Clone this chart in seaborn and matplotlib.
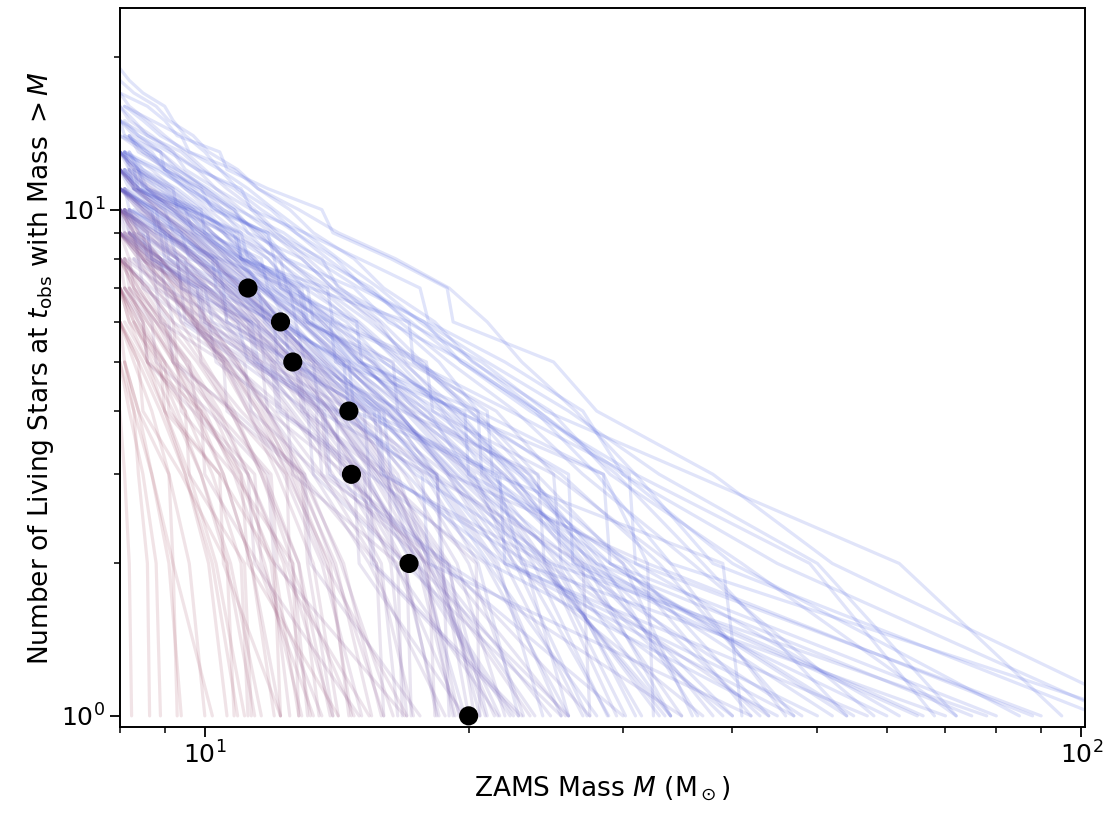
import numpy as np
import pandas as pd
import matplotlib
matplotlib.use("Agg")
import matplotlib.pyplot as plt
import seaborn as sns
from matplotlib.colors import LinearSegmentedColormap

# ── Data ──────────────────────────────────────────────────────────────────────
# observed cluster: ZAMS masses of the living stars (sorted)
obs_mass = [11.2, 12.2, 12.6, 14.6, 14.7, 17.1, 20.0]

# synthetic clusters: sorted ZAMS masses of the living stars per realisation
# young realisations (blue)
blue_sets = [
    [8.0, 8.3, 8.8, 9.1, 9.7, 10.1, 10.9, 11.5, 12.5, 13.3, 14.8, 16.0, 18.3, 20.2, 24.8, 29.0, 41.0, 72.0],
    [8.1, 8.5, 8.9, 9.6, 10.4, 10.9, 11.9, 12.7, 14.1, 15.2, 17.8, 19.6, 23.5, 31.0, 38.0, 105.0],
    [8.0, 8.6, 9.2, 9.5, 10.3, 11.3, 12.0, 13.6, 14.2, 16.7, 19.0, 22.6, 27.0, 36.0, 58.0],
    [8.2, 8.4, 9.1, 9.9, 10.5, 11.6, 12.3, 13.9, 15.8, 17.0, 21.5, 25.0, 34.0, 46.0],
    [8.0, 8.7, 9.0, 9.8, 10.8, 11.2, 12.9, 14.0, 16.4, 18.5, 20.5, 28.5, 32.0, 88.0],
    [8.1, 8.5, 9.3, 10.0, 10.6, 11.8, 12.6, 14.5, 16.0, 19.2, 23.0, 30.5, 44.0],
    [8.0, 8.4, 8.8, 9.7, 10.2, 11.1, 12.4, 13.1, 15.5, 17.9, 22.0, 26.5, 35.0],
    [8.2, 8.9, 9.4, 10.1, 11.3, 12.0, 13.7, 15.0, 18.6, 21.0, 29.0, 55.0],
    [8.0, 8.6, 9.1, 10.0, 10.7, 11.9, 13.2, 15.6, 17.4, 23.5, 27.5, 38.0],
    [8.1, 8.4, 9.2, 9.8, 11.0, 11.6, 13.5, 14.7, 18.0, 20.0, 31.0, 62.0],
    [8.0, 8.7, 9.5, 10.3, 11.4, 12.2, 14.3, 16.5, 19.4, 26.0, 48.0],
    [8.3, 8.8, 9.6, 10.4, 11.5, 13.0, 14.4, 17.2, 20.8, 24.5, 29.5],
    [8.0, 8.3, 9.0, 9.5, 10.5, 11.1, 12.2, 13.9, 15.1, 17.0, 21.2, 27.0, 66.0],
    [8.1, 8.4, 8.9, 9.3, 10.0, 10.8, 11.4, 12.4, 13.6, 15.4, 17.5, 20.0, 25.5, 33.0, 47.0],
    [8.2, 9.0, 9.9, 10.9, 12.1, 13.4, 16.2, 19.0, 24.0, 34.0],
    [8.0, 8.5, 9.3, 9.9, 10.6, 11.5, 12.8, 14.6, 16.9, 19.7, 25.8, 39.0],
    [8.1, 8.6, 9.0, 9.6, 10.4, 11.0, 12.1, 13.0, 14.9, 16.6, 18.8, 23.0, 28.0, 52.0],
    [8.0, 8.8, 9.4, 10.2, 11.2, 12.6, 13.8, 15.9, 20.3, 22.5, 37.0],
    [8.2, 8.5, 9.1, 9.8, 10.7, 11.4, 12.5, 14.2, 15.7, 18.2, 22.8, 29.0, 80.0],
    [8.0, 8.4, 9.0, 9.9, 10.9, 11.7, 13.1, 14.8, 17.6, 21.8, 27.8, 43.0],
    [8.0, 8.2, 8.7, 9.2, 9.8, 10.3, 11.0, 11.9, 12.9, 14.0, 15.6, 17.3, 20.4, 23.9, 30.0, 42.0],
    [8.1, 8.9, 9.7, 10.8, 11.8, 13.3, 15.3, 18.9, 22.0, 27.0],
    [8.0, 8.6, 9.4, 10.0, 11.1, 12.3, 13.7, 16.1, 18.4, 25.0, 31.5],
    [8.1, 8.7, 9.2, 9.9, 10.5, 11.3, 12.7, 13.8, 16.3, 18.7, 21.9, 30.0, 36.0],
    [8.0, 8.3, 9.1, 9.7, 10.6, 11.8, 12.4, 14.1, 16.0, 20.6, 24.2, 33.5],
    [8.2, 8.6, 9.2, 9.7, 10.3, 11.2, 12.0, 13.3, 14.7, 16.8, 19.5, 22.4, 26.8, 40.0],
    [8.0, 8.5, 9.3, 10.1, 11.0, 12.1, 13.4, 15.2, 17.8, 20.5, 22.8],
    [8.1, 8.7, 9.5, 10.2, 11.0, 12.2, 13.6, 15.1, 17.1, 19.9, 23.2, 26.0],
    [8.0, 8.8, 9.8, 10.6, 11.9, 13.5, 15.8, 18.1, 21.4, 25.5],
    [8.0, 8.4, 9.0, 9.6, 10.2, 11.0, 12.0, 13.2, 14.6, 16.5, 19.3, 24.7, 30.2],
    [8.2, 9.1, 10.1, 11.3, 12.8, 14.6, 17.0, 21.0, 28.0],
    [8.0, 8.3, 8.9, 9.4, 10.0, 10.7, 11.5, 12.3, 13.5, 15.0, 16.9, 19.1, 22.3, 27.2, 34.0],
    [8.1, 8.6, 9.2, 10.0, 10.8, 11.7, 12.9, 14.4, 16.2, 18.3, 21.6, 24.3],
    [8.0, 8.7, 9.3, 10.2, 11.1, 12.4, 13.9, 15.7, 18.0, 21.1, 45.0],
    [8.1, 8.4, 9.1, 9.7, 10.5, 11.4, 12.3, 13.6, 15.0, 17.2, 20.1, 23.7, 28.8],
    [8.0, 8.5, 9.0, 9.5, 10.1, 10.9, 11.8, 12.7, 14.0, 15.5, 17.6, 20.9, 25.3, 31.0],
    [8.3, 9.0, 9.9, 10.9, 12.0, 13.6, 15.5, 18.3, 22.3, 50.0],
    [8.0, 8.4, 9.2, 9.8, 10.8, 11.6, 12.9, 14.2, 16.6, 18.9, 22.6, 27.3],
    [8.0, 8.2, 8.6, 9.0, 9.5, 10.0, 10.6, 11.4, 12.1, 13.1, 14.3, 15.9, 17.7, 20.1, 23.4, 28.4, 36.5],
    [8.1, 8.8, 9.6, 10.5, 11.6, 12.8, 14.3, 16.4, 19.1, 23.0, 28.9],
    [8.0, 8.1, 8.9, 9.0, 9.9, 10.2, 11.8, 12.0, 12.2, 14.9, 15.1, 19.5, 26.0, 26.3, 60.0],
    [8.3, 8.4, 9.6, 10.9, 11.0, 13.8, 14.0, 17.5, 21.0, 21.3, 39.0, 41.0],
    [8.0, 8.8, 8.9, 10.4, 12.5, 12.7, 13.0, 16.8, 24.0, 24.4, 33.0],
    [8.1, 8.2, 8.6, 9.9, 10.0, 11.0, 13.1, 13.3, 15.0, 20.5, 20.7, 28.0, 75.0],
    [8.0, 8.5, 8.6, 9.8, 10.9, 11.2, 14.0, 18.4, 18.6, 30.0],
    [8.2, 9.4, 9.6, 11.5, 11.7, 12.9, 16.0, 16.3, 22.0, 57.0],
    [8.0, 8.3, 9.2, 9.3, 10.6, 12.2, 12.4, 14.1, 17.9, 18.2, 25.0, 25.5, 34.0],
    [8.1, 8.7, 8.8, 10.2, 10.3, 11.9, 14.6, 14.8, 21.5, 23.0, 70.0],
    [8.0, 8.2, 8.3, 9.5, 9.7, 10.8, 12.8, 13.0, 16.4, 16.6, 19.0, 32.0, 32.5],
    [8.4, 9.3, 9.4, 11.3, 13.3, 13.5, 18.0, 27.0, 27.5],
    [8.0, 8.6, 9.0, 9.1, 10.5, 10.6, 12.6, 15.8, 16.0, 23.5, 40.0],
    [8.1, 8.3, 9.5, 10.0, 11.6, 11.8, 13.9, 14.1, 19.8, 20.0, 26.5, 65.0],
    [8.0, 8.9, 9.0, 10.1, 12.0, 12.1, 15.6, 15.9, 24.5, 44.0],
    [8.2, 8.4, 8.5, 9.6, 11.0, 11.2, 13.2, 17.1, 17.3, 22.3, 30.5, 31.0, 90.0],
    [8.0, 8.7, 9.8, 9.9, 11.4, 13.7, 13.9, 18.9, 35.0],
    [8.1, 8.2, 9.1, 9.3, 10.7, 12.3, 12.5, 15.3, 21.7, 22.0, 47.0],
    [8.0, 8.4, 8.6, 9.7, 10.8, 11.0, 12.9, 13.1, 16.0, 19.3, 28.5, 29.0, 54.0],
    [8.3, 8.9, 10.0, 10.2, 12.6, 15.2, 15.4, 20.9, 26.0],
    [8.0, 8.2, 9.0, 9.2, 10.3, 10.5, 12.2, 14.4, 14.6, 17.4, 24.8, 78.0],
    [8.1, 8.6, 8.7, 9.9, 11.3, 11.5, 14.2, 17.7, 18.0, 42.0],
    [8.0, 8.6, 9.0, 9.3, 10.4, 10.6, 11.8, 13.6, 14.0, 16.3, 18.9, 19.2, 25.0, 28.0, 38.0, 52.0, 120.0],
    [8.0, 8.2, 8.5, 9.0, 9.2, 9.5, 10.0, 10.4, 11.2, 12.0, 13.0, 14.2, 15.8, 17.6, 20.3, 24.0, 30.0, 45.0, 110.0],
    [8.1, 8.7, 9.4, 9.6, 10.8, 11.5, 12.8, 14.2, 16.5, 19.0, 21.0, 23.0, 26.5, 31.0, 49.0, 68.0],
    [8.0, 8.4, 9.1, 9.8, 11.0, 11.3, 13.0, 15.0, 17.6, 18.0, 22.0, 27.0, 30.0, 40.0, 85.0],
    [8.2, 8.5, 9.3, 10.1, 10.9, 12.3, 13.5, 15.5, 17.0, 20.7, 24.5, 36.0, 62.0, 95.0],
    [8.0, 8.8, 9.6, 10.5, 11.7, 12.4, 14.8, 16.2, 19.8, 23.8, 28.0, 34.0, 115.0],
    [8.0, 8.3, 8.6, 9.4, 9.9, 10.8, 11.6, 12.7, 13.8, 15.3, 17.2, 19.6, 24.0, 29.5, 37.0, 54.0],
    [8.1, 8.9, 9.5, 10.3, 11.8, 13.3, 15.0, 17.8, 21.0, 26.0, 33.0, 50.0, 72.0],
]
# intermediate-age realisations (purple)
purple_sets = [
    [8.0, 8.4, 9.0, 9.7, 10.5, 11.3, 12.4, 13.5, 15.2, 17.6, 19.8],
    [8.1, 8.7, 9.3, 10.1, 11.0, 12.1, 13.2, 15.0, 17.9, 21.4],
    [8.0, 8.3, 8.9, 9.4, 10.2, 10.9, 11.8, 12.9, 14.2, 16.0, 18.1, 23.8],
    [8.2, 8.8, 9.7, 10.5, 11.6, 12.8, 14.6, 16.8, 18.5],
    [8.0, 8.6, 9.1, 9.9, 10.8, 11.9, 13.0, 14.8, 16.3, 17.0],
    [8.1, 8.5, 9.2, 9.8, 10.7, 11.5, 12.7, 14.1, 15.8, 18.9, 21.0],
    [8.0, 8.4, 8.8, 9.5, 10.1, 11.0, 11.9, 13.1, 14.4, 16.2, 19.0, 20.3],
    [8.1, 8.9, 9.5, 10.4, 11.4, 12.6, 14.3, 16.5, 19.6],
    [8.0, 8.5, 9.3, 10.0, 10.9, 12.0, 13.4, 15.3, 17.2, 22.3],
    [8.0, 8.3, 8.7, 9.3, 9.9, 10.6, 11.4, 12.2, 13.3, 14.7, 16.4, 18.5, 20.6],
    [8.2, 9.0, 9.8, 10.8, 12.0, 13.6, 15.7, 17.3],
    [8.0, 8.6, 9.1, 9.8, 10.6, 11.6, 12.6, 13.9, 15.5, 17.8, 19.2],
    [8.1, 8.7, 9.4, 10.3, 11.2, 12.3, 13.8, 15.6, 18.2, 24.8],
    [8.0, 8.4, 9.0, 9.6, 10.3, 11.1, 12.1, 13.4, 14.9, 16.9, 19.4, 22.0],
    [8.0, 8.6, 9.4, 10.2, 11.3, 12.5, 14.0, 15.9, 16.6],
    [8.1, 8.5, 9.1, 9.9, 10.8, 11.7, 12.9, 14.5, 16.6, 18.0, 21.7],
    [8.0, 8.8, 9.5, 10.1, 11.1, 12.2, 13.5, 15.1, 17.5, 19.3],
    [8.2, 8.6, 9.2, 9.7, 10.4, 11.3, 12.3, 13.7, 15.3, 17.3, 20.0, 23.1],
    [8.0, 8.7, 9.6, 10.6, 11.8, 13.3, 15.4, 18.8],
    [8.0, 8.4, 9.1, 9.7, 10.5, 11.4, 12.6, 13.9, 15.7, 18.3, 20.9],
    [8.1, 8.6, 9.3, 10.0, 11.0, 12.0, 13.6, 14.9, 16.9, 18.4],
    [8.0, 8.9, 9.6, 10.5, 11.5, 12.9, 14.7, 17.4, 22.5],
    [8.0, 8.3, 8.9, 9.5, 10.2, 11.0, 12.0, 13.2, 14.6, 16.3, 17.8, 19.5],
    [8.2, 8.7, 9.5, 10.3, 11.2, 12.4, 13.9, 15.8, 18.6, 20.0],
    [8.0, 8.5, 9.0, 9.8, 10.6, 11.5, 12.7, 14.2, 16.1, 17.4, 26.0],
    [8.0, 8.1, 8.8, 9.9, 10.0, 11.7, 13.4, 13.6, 18.7, 19.0],
    [8.2, 8.9, 9.0, 10.6, 12.0, 12.2, 15.4, 15.6, 23.0],
    [8.0, 8.4, 8.5, 9.6, 11.1, 11.3, 13.5, 17.0, 17.2],
    [8.1, 8.3, 9.3, 9.4, 10.9, 12.8, 13.0, 16.2, 16.4, 21.6],
    [8.0, 8.7, 8.8, 10.1, 10.3, 12.3, 14.8, 15.0, 19.8],
    [8.3, 9.2, 9.4, 11.0, 13.1, 13.3, 16.9, 25.5],
    [8.0, 8.5, 9.6, 9.7, 11.6, 11.8, 14.5, 18.0, 18.3],
    [8.1, 8.2, 8.9, 10.4, 10.6, 12.7, 12.9, 15.9, 20.4, 20.6],
    [8.0, 8.6, 9.1, 9.2, 10.8, 13.0, 13.2, 17.6],
    [8.2, 8.4, 9.5, 9.6, 11.2, 11.4, 14.1, 14.3, 18.9, 27.5],
    [8.0, 8.3, 8.4, 9.8, 10.0, 11.9, 12.1, 15.2, 15.5, 22.8],
    [8.1, 9.0, 9.2, 10.7, 12.4, 12.6, 16.6, 16.8],
    [8.0, 8.2, 8.7, 9.4, 9.5, 11.3, 13.6, 13.8, 17.9, 23.5],
    [8.3, 8.8, 8.9, 10.5, 10.6, 12.9, 15.7, 16.0],
    [8.0, 8.6, 8.7, 10.0, 11.5, 11.7, 14.7, 18.4, 18.7, 25.8],
]
# old realisations (red)
red_sets = [
    [8.0, 8.3, 8.8, 9.2, 9.8, 10.5, 11.2, 12.3, 13.6, 15.1],
    [8.1, 8.6, 9.1, 9.8, 10.6, 11.5, 12.4, 13.9, 14.6],
    [8.0, 8.4, 8.9, 9.6, 10.4, 11.2, 12.3, 13.2],
    [8.2, 8.6, 9.3, 10.0, 10.8, 11.8, 13.0, 14.3, 16.4],
    [8.0, 8.3, 8.7, 9.3, 9.9, 10.6, 11.6, 12.6, 13.8, 14.7],
    [8.1, 8.6, 9.2, 9.9, 10.9, 12.0, 12.8],
    [8.0, 8.5, 9.1, 9.7, 10.5, 11.3, 12.5, 13.7, 17.0],
    [8.1, 8.5, 9.0, 9.8, 10.7, 11.7, 12.8, 13.5],
    [8.0, 8.3, 8.7, 9.2, 9.8, 10.5, 11.3, 12.0],
    [8.2, 8.8, 9.5, 10.3, 11.2, 12.4, 14.0],
    [8.0, 8.5, 9.0, 9.7, 10.5, 11.5, 12.7, 14.1, 15.5],
    [8.1, 8.4, 8.9, 9.4, 10.1, 10.9, 11.7, 12.8, 14.0, 16.0],
    [8.0, 8.3, 8.8, 9.3, 9.9, 10.7, 11.6],
    [8.0, 8.6, 9.2, 9.9, 10.7, 11.6, 12.8, 13.9],
    [8.1, 8.5, 9.1, 9.7, 10.4, 11.2, 12.1, 13.3, 14.2],
    [8.0, 8.4, 8.9, 9.5, 10.2, 10.9],
    [8.0, 8.2, 8.6, 9.0, 9.5, 10.1, 10.6],
    [8.1, 8.4, 8.7, 9.1, 9.4],
    [8.0, 8.2, 8.5, 8.8, 8.9],
    [8.0, 8.1, 8.2, 8.25],
    [8.0, 8.3, 8.7, 9.1, 9.6, 10.0],
    [8.1, 8.4, 8.9, 9.5, 10.2, 11.0, 11.9, 12.5],
    [8.0, 8.5, 9.0, 9.6, 10.3, 11.1],
    [8.0, 8.4, 8.8, 9.4, 10.0, 10.8, 11.6, 12.6, 13.1],
    [8.1, 8.5, 9.0, 9.7, 10.5, 11.3, 12.2],
    [8.0, 8.3, 8.7, 9.2, 9.3],
    [8.0, 8.3, 8.8, 9.3, 10.0, 10.8, 11.7, 12.9],
    [8.1, 8.6, 9.2, 9.9, 10.6, 11.4],
    [8.0, 8.4, 8.9, 9.5, 10.1, 10.9, 11.8, 12.9, 14.4, 15.9],
    [8.0, 8.4, 8.9, 9.5, 10.2, 11.0, 11.2],
    [8.0, 8.1, 8.6, 9.3, 9.4, 10.8, 12.6, 12.8],
    [8.2, 8.5, 8.6, 9.9, 11.0, 11.2, 14.2],
    [8.0, 8.3, 9.0, 9.1, 10.4, 12.0, 12.2],
    [8.1, 8.2, 8.8, 9.6, 9.8, 11.4, 11.6, 13.6],
    [8.0, 8.5, 8.6, 9.7, 11.2, 11.4, 15.0],
    [8.0, 8.4, 8.5, 9.4, 10.6, 10.8],
    [8.1, 8.7, 8.8, 10.1, 11.8, 12.0, 16.9],
    [8.0, 8.2, 8.3, 9.0, 9.2, 10.3, 11.9, 12.1, 15.4],
    [8.3, 8.7, 9.5, 9.6, 11.1, 11.3],
    [8.0, 8.1, 8.4, 9.1, 9.2, 10.2],
    [8.0, 8.6, 9.2, 9.3, 10.7, 12.4, 12.5, 14.8],
    [8.1, 8.3, 8.4, 8.6, 8.65],
    [8.0, 8.4, 9.0, 9.9, 10.0, 11.5, 13.3],
    [8.2, 8.5, 8.9, 9.8, 9.9, 11.0, 12.9, 13.1, 14.0],
    [8.0, 8.2, 8.9, 9.0, 10.4, 10.5, 12.2],
]
# colour value per realisation (0 = young/blue, 1 = old/red)
blue_age = [0.05, 0.0, 0.08, 0.15, 0.05, 0.1, 0.2, 0.1, 0.18, 0.05,
            0.12, 0.25, 0.08, 0.1, 0.2, 0.15, 0.1, 0.22, 0.05, 0.12,
            0.15, 0.28, 0.2, 0.15, 0.18, 0.12, 0.3, 0.25, 0.28, 0.2,
            0.22, 0.15, 0.25, 0.1, 0.2, 0.18, 0.08, 0.22, 0.12, 0.2,
            0.05, 0.1, 0.18, 0.08, 0.25, 0.12, 0.15, 0.1, 0.2, 0.3,
            0.15, 0.08, 0.2, 0.05, 0.25, 0.12, 0.1, 0.28, 0.08, 0.18,
            0.0, 0.02, 0.05, 0.0, 0.03, 0.0, 0.05, 0.02]
purple_age = [0.45, 0.5, 0.4, 0.55, 0.6, 0.45, 0.5, 0.55, 0.42, 0.48,
              0.62, 0.52, 0.38, 0.45, 0.6, 0.45, 0.55, 0.4, 0.58, 0.48,
              0.55, 0.42, 0.52, 0.5, 0.4, 0.5, 0.45, 0.58, 0.48, 0.55,
              0.4, 0.6, 0.5, 0.62, 0.38, 0.45, 0.58, 0.5, 0.62, 0.42]
red_age = [0.72, 0.78, 0.85, 0.7, 0.8, 0.88, 0.72, 0.82, 0.9, 0.8,
           0.75, 0.72, 0.92, 0.8, 0.78, 0.95, 0.95, 1.0, 1.0, 1.0,
           0.98, 0.85, 0.95, 0.82, 0.88, 1.0, 0.85, 0.92, 0.72, 0.9,
           0.85, 0.88, 0.9, 0.8, 0.75, 0.95, 0.7, 0.78, 0.92, 0.98,
           0.8, 1.0, 0.85, 0.75, 0.9]

# ── Long table ────────────────────────────────────────────────────────────────
rows = []
all_sets = blue_sets + purple_sets + red_sets
all_age = blue_age + purple_age + red_age
for k, (masses, age) in enumerate(zip(all_sets, all_age)):
    n = len(masses)
    for i, m in enumerate(masses):
        rows.append({"run": k, "mass": m, "count": n - i, "age": age})
df = pd.DataFrame(rows)

obs = pd.DataFrame({"mass": obs_mass, "count": np.arange(len(obs_mass), 0, -1)})

# ── Plot ──────────────────────────────────────────────────────────────────────
sns.set_style("ticks")
plt.rcParams["font.family"] = ["DejaVu Sans"]
plt.rcParams["mathtext.fontset"] = "dejavusans"
for key in ["text.color", "axes.labelcolor", "xtick.color", "ytick.color", "axes.edgecolor"]:
    plt.rcParams[key] = "black"

cmap = LinearSegmentedColormap.from_list("age", ["#4058e0", "#7058b0", "#a85468"])

fig = plt.figure(figsize=(11.1, 8.17), dpi=100)
ax = fig.add_axes([0.108, 0.110, 0.8695, 0.880])

sns.lineplot(data=df, x="mass", y="count", units="run", hue="age", palette=cmap,
             hue_norm=(0, 1), estimator=None, sort=False, legend=False,
             lw=2.3, alpha=0.16, ax=ax)
sns.scatterplot(data=obs, x="mass", y="count", color="black", s=190,
                edgecolor="none", zorder=5, ax=ax)

ax.set_xscale("log")
ax.set_yscale("log")
ax.set_xlim(8.0, 101)
ax.set_ylim(0.95, 25)
ax.tick_params(axis="both", which="major", labelsize=18, length=7, width=1.3)
ax.tick_params(axis="both", which="minor", length=4, width=1.1)
for sp in ax.spines.values():
    sp.set_linewidth(1.4)

ax.set_xlabel(r"ZAMS Mass $M$ (M$_\odot$)", fontsize=19)
ax.set_ylabel(r"Number of Living Stars at $t_{\rm obs}$ with Mass $>M$", fontsize=19)

fig.savefig("out.png", dpi=100)
